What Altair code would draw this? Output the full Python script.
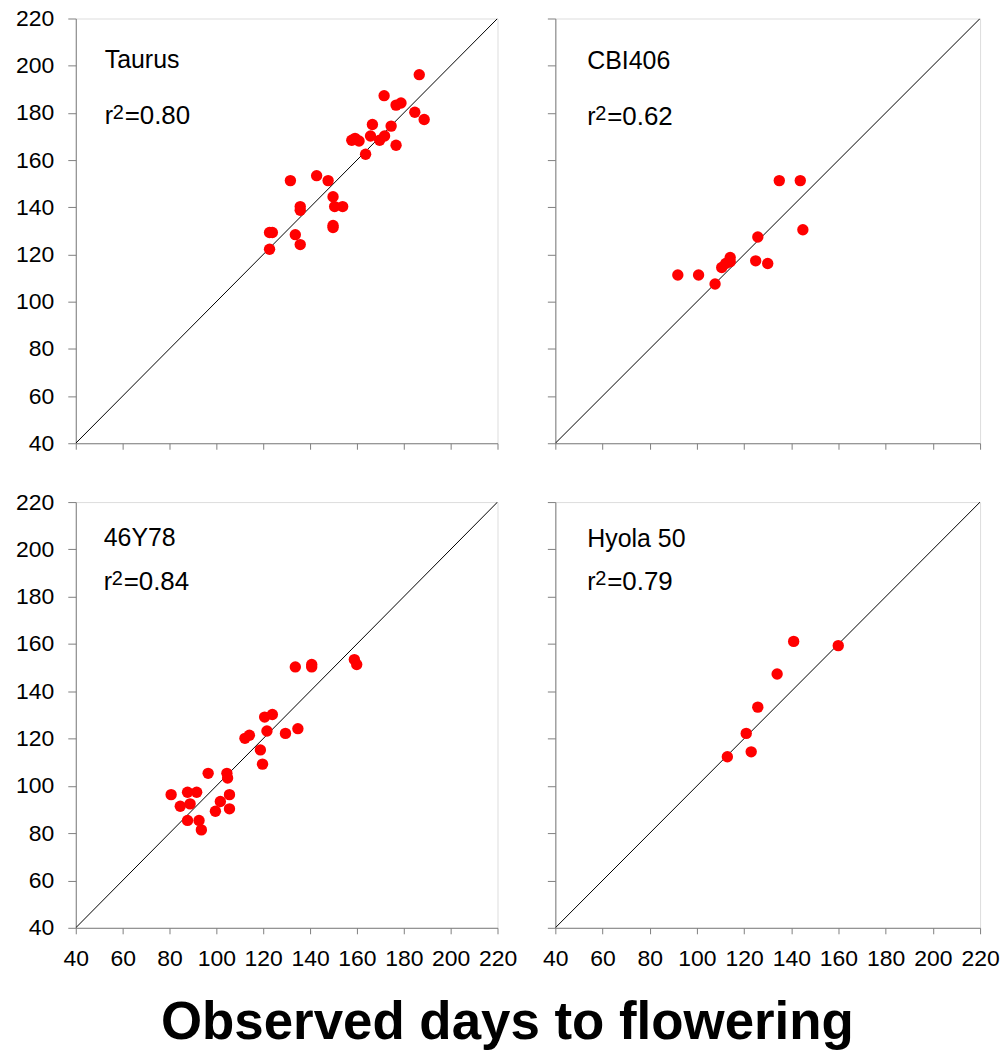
import altair as alt
import pandas as pd

# ---------------- data ----------------
axis_ticks = [40, 60, 80, 100, 120, 140, 160, 180, 200, 220]
diag_vals = [40, 220]

taurus_obs = [186.6, 171.6, 176.7, 178.8, 184.7, 188.7, 166.6, 174.6, 157.8, 159.2,
              160.9, 165.8, 169.7, 171.8, 176.7, 163.7, 131.6, 142.8, 147.7, 149.8,
              135.8, 135.8, 150.5, 153.9, 149.8, 149.8, 122.7, 123.9, 133.7, 135.8,
              122.7]
taurus_pred = [196.2, 187.3, 183.3, 184.2, 180.3, 177.2, 175.1, 174.4, 168.4, 169.2,
               168.1, 170.2, 168.4, 170.2, 166.3, 162.5, 151.3, 153.4, 151.3, 144.5,
               140.3, 138.7, 140.3, 140.3, 132.3, 131.4, 129.3, 129.3, 128.4, 124.2,
               122.2]

cbi_obs = [91.9, 100.7, 107.7, 110.5, 112.2, 114.1, 114.1, 124.9, 125.8, 130.0, 134.9, 143.8, 144.9]
cbi_pred = [111.3, 111.3, 107.5, 114.5, 116.2, 118.7, 116.9, 117.3, 127.4, 116.2, 151.3, 151.3, 130.5]

y46_obs = [80.7, 84.6, 87.7, 91.6, 88.8, 87.7, 92.6, 93.6, 96.5, 99.6, 101.7, 104.5,
           104.8, 105.6, 105.6, 112.2, 114.1, 118.8, 119.7, 120.6, 123.9, 121.6, 129.5,
           134.8, 133.7, 140.7, 140.7, 158.9, 159.9]
y46_pred = [96.3, 91.4, 97.3, 97.3, 92.4, 85.4, 85.4, 81.4, 105.3, 89.3, 93.4, 105.3,
            103.3, 96.3, 90.3, 120.1, 121.4, 115.2, 109.2, 129.1, 130.2, 123.2, 122.2,
            124.2, 150.3, 151.3, 150.3, 153.4, 151.3]

hyola_obs = [112.9, 120.9, 123.0, 125.8, 134.0, 141.0, 159.9]
hyola_pred = [112.3, 122.2, 114.4, 133.3, 147.3, 161.1, 159.3]

names = ["Taurus", "CBI406", "46Y78", "Hyola 50"]
r2_texts = ["=0.80", "=0.62", "=0.84", "=0.79"]

FONT = "Liberation Sans"
GREY = "#808080"


def panel(name, r2, obs, pred, x_labels, y_labels, tx, name_y, r2_y, w, h):
    scale = alt.Scale(domain=[40, 220], nice=False, zero=False)
    common = dict(values=axis_ticks, title=None, grid=False, labelFontSize=23,
                  labelFont=FONT, labelColor="black", domainColor=GREY, tickColor=GREY,
                  labelOverlap=False, labelFlush=False, labelBound=False)
    xaxis = alt.Axis(labels=x_labels, tickSize=6, labelPadding=14, **common)
    yaxis = alt.Axis(labels=y_labels, tickSize=8, labelPadding=14, **common)
    df = pd.DataFrame({"obs": obs, "pred": pred})
    diag = alt.Chart(pd.DataFrame({"v": diag_vals})).mark_line(
        color="black", strokeWidth=1, clip=True
    ).encode(x=alt.X("v:Q", scale=scale, axis=xaxis),
             y=alt.Y("v:Q", scale=scale, axis=yaxis))
    pts = alt.Chart(df).mark_circle(size=130, color="#ff0000", opacity=1).encode(
        x=alt.X("obs:Q", scale=scale, axis=xaxis),
        y=alt.Y("pred:Q", scale=scale, axis=yaxis))
    tdf = pd.DataFrame({"name": [name], "r": ["r"], "sup": ["2"], "val": [r2]})
    base = alt.Chart(tdf)
    t_name = base.mark_text(align="left", baseline="alphabetic", fontSize=25, font=FONT,
                            color="black").encode(text="name:N", x=alt.value(tx), y=alt.value(name_y))
    t_r = base.mark_text(align="left", baseline="alphabetic", fontSize=25, font=FONT,
                         color="black").encode(text="r:N", x=alt.value(tx), y=alt.value(r2_y))
    t_sup = base.mark_text(align="left", baseline="alphabetic", fontSize=20, font=FONT,
                           color="black").encode(text="sup:N", x=alt.value(tx + 8), y=alt.value(r2_y - 5))
    t_val = base.mark_text(align="left", baseline="alphabetic", fontSize=26, font=FONT,
                           color="black").encode(text="val:N", x=alt.value(tx + 20), y=alt.value(r2_y))
    return alt.layer(diag, pts, t_name, t_r, t_sup, t_val).resolve_scale(
        x="shared", y="shared").properties(width=w, height=h)


p1 = panel(names[0], r2_texts[0], taurus_obs, taurus_pred, False, True, 29, 50, 106, 423, 426)
p2 = panel(names[1], r2_texts[1], cbi_obs, cbi_pred, False, False, 32, 51, 107, 426, 426)
p3 = panel(names[2], r2_texts[2], y46_obs, y46_pred, True, True, 28, 44, 88, 423, 427)
p4 = panel(names[3], r2_texts[3], hyola_obs, hyola_pred, True, False, 32, 45, 88, 426, 427)

top = alt.hconcat(p1, p2, spacing=48).resolve_scale(x="independent", y="independent")
bottom = alt.hconcat(p3, p4, spacing=24).resolve_scale(x="independent", y="independent")

chart = alt.vconcat(top, bottom, spacing=34).resolve_scale(
    x="independent", y="independent"
).properties(
    title=alt.TitleParams("Observed days to flowering", orient="bottom", anchor="middle",
                          fontSize=53, font=FONT, fontWeight="bold", color="black",
                          offset=26),
    padding={"left": 15, "top": 5, "right": 5, "bottom": 0},
).configure_view(stroke=GREY, strokeWidth=1, fill="white").configure(background="white")

chart.save("out.html", embed_options={"renderer": "svg", "actions": False})
